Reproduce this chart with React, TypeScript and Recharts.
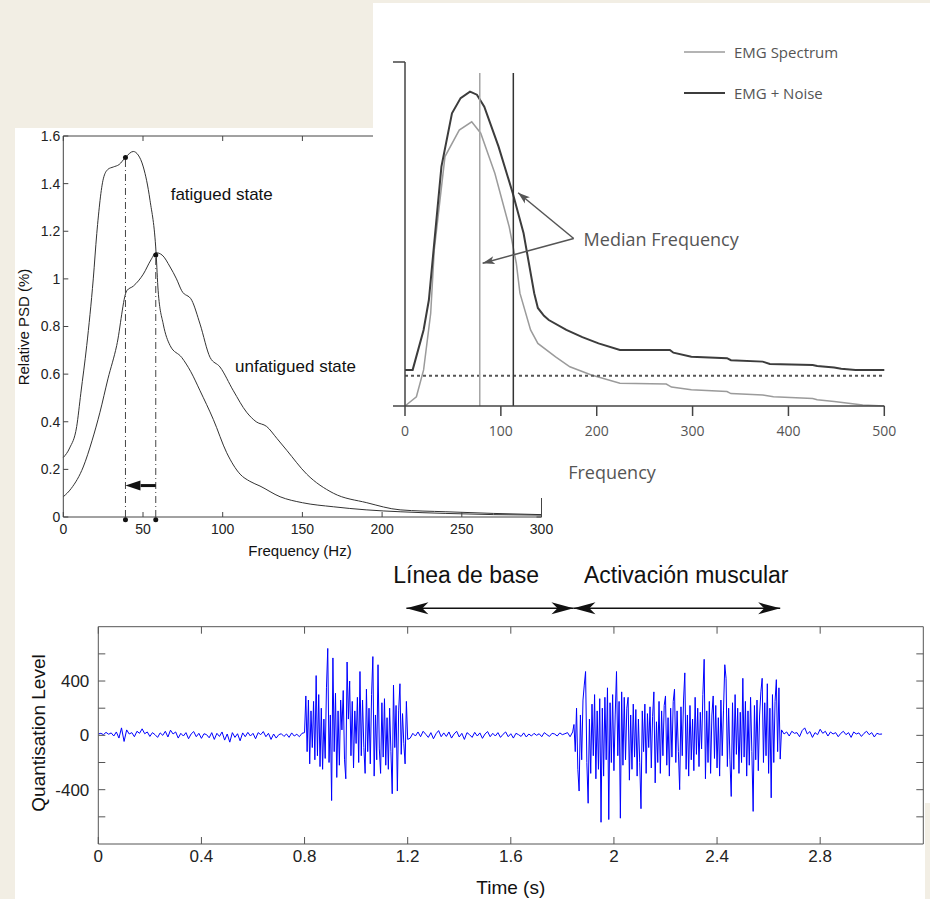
import React from "react";
import {
  LineChart,
  Line,
  XAxis,
  YAxis,
  ReferenceLine,
  ReferenceDot,
  Legend,
} from "recharts";

const SANS = '"Liberation Sans", Arial, sans-serif';
const CALIBRI = '"Open Sans", sans-serif';
const PAPER = "#f2eee4";

// ---- left panel: relative PSD, fatigued vs unfatigued ----
const fatiguedHz = [0, 4, 8.4, 11, 14.7, 18.8, 21, 25.1, 28, 31.4, 35, 39, 43.9, 47, 50.2, 54.4, 58.2, 59.5, 62.7, 67, 74.3, 80, 85.8, 94.1, 102.5, 110.9, 117, 123.4, 136, 150, 169.4, 190, 211.3, 240, 270, 300];
const fatiguedPsd = [0.25, 0.29, 0.38, 0.52, 0.72, 1.0, 1.19, 1.42, 1.46, 1.47, 1.48, 1.51, 1.535, 1.52, 1.47, 1.33, 1.11, 0.95, 0.81, 0.72, 0.67, 0.61, 0.53, 0.41, 0.27, 0.18, 0.15, 0.13, 0.085, 0.06, 0.043, 0.03, 0.022, 0.015, 0.01, 0.008];
const unfatiguedHz = [0, 5, 12.5, 18, 23, 28, 33.5, 39.8, 44, 50.2, 55, 58.2, 62, 67, 71, 74.3, 80.6, 85.8, 92.1, 98.3, 106.7, 115, 121, 127.6, 134, 140.2, 152.7, 169.4, 190.4, 211.3, 240, 270, 300];
const unfatiguedPsd = [0.085, 0.12, 0.21, 0.32, 0.44, 0.58, 0.72, 0.95, 0.97, 1.02, 1.08, 1.11, 1.1, 1.05, 1.0, 0.95, 0.91, 0.81, 0.67, 0.63, 0.53, 0.44, 0.4, 0.38, 0.33, 0.28, 0.18, 0.1, 0.06, 0.03, 0.022, 0.015, 0.01];
const psdTicksX = [0, 50, 100, 150, 200, 250, 300];
const psdTicksY = [0, 0.2, 0.4, 0.6, 0.8, 1, 1.2, 1.4, 1.6];
const medianFatigued = 39;
const medianUnfatigued = 58;
const shiftArrowY = 0.132;

// ---- right panel: EMG spectrum with / without noise ----
const spectrumHz = [0, 11.9, 19.4, 26.8, 30.5, 41.7, 56.6, 69.6, 79, 93.8, 108.7, 116.1, 119.9, 131, 138.6, 157.1, 172, 194.4, 224.2, 272.6, 278, 298.7, 335.9, 340, 373.2, 384.4, 425.3, 430, 447.7, 477.5, 500];
const spectrumLevel = [0, 0.027, 0.105, 0.269, 0.453, 0.725, 0.802, 0.826, 0.793, 0.676, 0.521, 0.415, 0.328, 0.221, 0.182, 0.143, 0.114, 0.09, 0.066, 0.064, 0.055, 0.047, 0.042, 0.036, 0.032, 0.027, 0.022, 0.018, 0.013, 0.003, 0];
const noiseHz = [0, 8, 19.4, 24.9, 38, 49, 58, 67.8, 75, 82.7, 97.6, 112.5, 123.7, 134.8, 138.6, 145, 150, 168.3, 185, 201.9, 224.2, 276.3, 280, 298.7, 335.9, 340, 373.2, 380.6, 425.3, 430, 447.7, 455, 470, 500];
const noiseLevel = [0.105, 0.105, 0.221, 0.308, 0.696, 0.851, 0.895, 0.914, 0.905, 0.87, 0.754, 0.618, 0.502, 0.328, 0.285, 0.262, 0.25, 0.221, 0.2, 0.182, 0.163, 0.163, 0.155, 0.143, 0.139, 0.133, 0.129, 0.122, 0.119, 0.116, 0.112, 0.108, 0.105, 0.105];
const spectrumTicksX = [0, 100, 200, 300, 400, 500];
const legendOrder = ["EMG Spectrum", "EMG + Noise"];
const medianSpectrum = 78;
const medianNoise = 113;
const medianTop = 0.968;
const noiseFloor = 0.088;
const calloutFrom = { x: 176, y: 0.487 };
const calloutToNoise = { x: 118, y: 0.62 };
const calloutToSpectrum = { x: 81, y: 0.415 };

// ---- bottom panel: raw EMG, quantisation level vs time ----
const emgBaselineA = [
  10, 15, 5, 22, 8, 18, -5, 25, -20, 55,
  -45, 40, 10, 20, -10, 30, 15, 48, 12, 25,
  -8, 20, 5, -15, 18, 0, 30, -12, 38, 10,
  25, -20, 15, -5, 20, -25, 10, 28, -10, 15,
  -22, 12, 5, -18, 20, -30, 15, -8, 25, -35,
  10, -50, 20, -15, 12, -40, 18, -10, 22, -5,
  15, -25, 20, 5, 28, -10, 15, -30, 10, -20,
  5, 12, -8, 10, -15, 18, -5, 8, -10, 15,
  20,
];
const emgBurstA = [
  290, -120, 260, -210, 180, -90, 250, -180, 440, -150,
  300, -230, 200, -250, 120, -170, 350, 640, -200, 150,
  -480, 570, -120, 310, -310, 180, -220, 260, 40, 330,
  -180, -320, 540, 120, 400, -150, 250, -240, 180, -60,
  280, -200, 470, -150, 260, -90, -280, 340, -120, 200,
  -210, 300, 580, -300, 150, -180, 520, -100, -280, 240,
  -160, 270, -220, 130, -250, 200, -120, -430, 370, -90,
  220, -410, 180, 380, -140, 160, -60, -210, 250, -30,
];
const emgBaselineB = [
  -20, 15, -5, 25, -10, 30, 8, -15, 20, -25,
  12, 35, -10, 18, -8, 25, -20, 10, 30, -12,
  15, -30, 20, 5, -15, 22, -5, 18, -22, 10,
  28, -10, 15, -5, 20, -15, 8, 25, -10, 12,
  -20, 15, 5, -8, 18, -12, 10, -5, 15, 0,
  12, -10, 20, 5, -8, 15, 10, -5, 18, 5,
  12, 20, -10, 25,
];
const emgBurstB = [
  80, -120, 200, -250, -410, 150, -180, 260, 370, 470,
  -200, -500, 120, -280, 230, -150, 300, -320, 180, -250,
  270, -640, 200, -300, 280, -180, 350, -620, 240, -200,
  300, -260, 150, 470, -150, 250, -610, 320, -220, 280,
  -180, 200, 280, -330, 150, -250, 230, -160, 190, -300,
  120, -200, -540, 180, -120, 230, -280, 160, -90, 210,
  -240, 140, 320, -350, 100, -200, 250, -280, 180, -150,
  220, 290, -220, 130, -300, 200, -160, 250, 340, -200,
  180, -120, -400, 210, -150, 260, 460, -250, 150, -300,
  220, -180, 120, -260, 280, -140, 200, -230, 170, -100,
  300, 560, -320, 180, -200, 250, -280, 150, 290, -170,
  220, -240, 130, -300, 260, -150, 180, 520, 420, -230,
  200, -180, -450, 240, -250, 300, -140, 200, -280, 170,
  -200, 420, -160, 250, -300, 180, -220, 280, -120, -560,
  220, -180, 260, -260, 150, 320, 420, -200, 240, -150,
  380, -280, 200, -460, 300, -200, 250, 410, -120, 350,
  -175, 40,
];
const emgBaselineC = [
  10, 25, -5, 30, 15, 20, -10, 35, 55, 10,
  28, -15, 20, 5, 45, 15, 30, -5, 25, 10,
  20, -10, 15, 30, 5, 20, -15, 25, 10, 18,
  -8, 15, 30, 5, 20, -12, 15, 8, 10,
];
const emgTicksX = [0, 0.4, 0.8, 1.2, 1.6, 2, 2.4, 2.8];
const emgTicksY = [-600, -400, -200, 0, 200, 400, 600];
const emgLabelledY = [-400, 0, 400];
const baselineSpan = [1.195, 1.843];
const activationSpan = [1.843, 2.645];
const spanLevel = 935;

const zip = (xs: number[], ys: number[]) => xs.map((x, i) => ({ x, y: ys[i] }));
const run = (start: number, step: number, values: number[]) =>
  values.map((y, i) => ({ x: +(start + i * step).toFixed(3), y }));

const fatigued = zip(fatiguedHz, fatiguedPsd);
const unfatigued = zip(unfatiguedHz, unfatiguedPsd);
const spectrum = zip(spectrumHz, spectrumLevel);
const noisy = zip(noiseHz, noiseLevel);
const emg = [
  ...run(0, 0.01, emgBaselineA),
  ...run(0.805, 0.005, emgBurstA),
  ...run(1.21, 0.01, emgBaselineB),
  ...run(1.845, 0.005, emgBurstB),
  ...run(2.66, 0.01, emgBaselineC),
];

const arrowHead =
  (angle: number, len: number, half: number, notch: number, fill: string) =>
  (props: any) => (
    <polygon
      points={`0,0 ${-len},${-half} ${-len + notch},0 ${-len},${half}`}
      transform={`translate(${props.cx},${props.cy}) rotate(${angle})`}
      fill={fill}
    />
  );

function Note({
  x,
  y,
  size,
  font,
  color = "#111",
  anchor = "start",
  rotate = false,
  children,
}: any) {
  const tx = anchor === "middle" ? "-50%" : "0";
  return (
    <div
      style={{
        position: "absolute",
        left: x,
        top: y,
        fontSize: size,
        fontFamily: font,
        color,
        lineHeight: 1,
        whiteSpace: "nowrap",
        transform: `translate(${tx}, -50%)${rotate ? " rotate(-90deg)" : ""}`,
      }}
    >
      {children}
    </div>
  );
}

const spectrumLegend = (props: any) => {
  const items = [...(props.payload || [])].sort(
    (a: any, b: any) => legendOrder.indexOf(a.value) - legendOrder.indexOf(b.value)
  );
  return (
    <div style={{ fontFamily: CALIBRI, fontSize: 15, color: "#555" }}>
      {items.map((e: any) => (
        <div key={e.value} style={{ display: "flex", alignItems: "center", height: 41 }}>
          <svg width={41} height={4}>
            <line x1={0} x2={41} y1={2} y2={2} stroke={e.color} strokeWidth={e.value === "EMG + Noise" ? 2 : 1.5} />
          </svg>
          <span style={{ marginLeft: 9 }}>{e.value}</span>
        </div>
      ))}
    </div>
  );
};

const psdTick = { fontSize: 14, fill: "#222", fontFamily: SANS };
const spectrumTick = { fontSize: 14, fill: "#555", fontFamily: CALIBRI };
const emgTick = { fontSize: 17, fill: "#222", fontFamily: SANS };

export default function App() {
  return (
    <div
      style={{
        position: "absolute",
        left: 0,
        top: 0,
        width: 930,
        height: 899,
        background: PAPER,
        overflow: "hidden",
      }}
    >
      <div style={{ position: "absolute", left: 15, top: 128, width: 915, height: 771, background: "#fff" }} />
      <div style={{ position: "absolute", left: 925, top: 803, width: 5, height: 96, background: PAPER }} />

      {/* relative PSD */}
      <div style={{ position: "absolute", left: 0, top: 0 }}>
        <LineChart width={560} height={570} margin={{ top: 135, right: 17.5, bottom: 23, left: 13.3 }}>
          <XAxis dataKey="x" type="number" domain={[0, 300]} ticks={psdTicksX} interval={0} height={30}
            tickSize={-5} tickMargin={12} stroke="#444" tick={psdTick} />
          <XAxis xAxisId="top" orientation="top" dataKey="x" type="number" domain={[0, 300]} allowDataOverflow
            ticks={psdTicksX} interval={0} height={1} tickSize={-5} stroke="#444" tickFormatter={() => ""} />
          <YAxis type="number" domain={[0, 1.6]} ticks={psdTicksY} interval={0} width={50}
            tickSize={-5} tickMargin={8} stroke="#444" tick={psdTick}
            tickFormatter={(v: number) => String(+v.toFixed(1))} />
          <YAxis yAxisId="right" orientation="right" type="number" domain={[0, 1.6]} allowDataOverflow
            ticks={psdTicksY} interval={0} width={1} tickSize={-5} stroke="#444" tickFormatter={() => ""} />
          <Line data={fatigued} dataKey="y" type="monotone" stroke="#333" strokeWidth={1} dot={false} isAnimationActive={false} />
          <Line data={unfatigued} dataKey="y" type="monotone" stroke="#333" strokeWidth={1} dot={false} isAnimationActive={false} />
          {/* same curve bound to the frame axes so that they get drawn; no stroke */}
          <Line data={fatigued} dataKey="y" xAxisId="top" yAxisId="right" stroke="none" dot={false}
            legendType="none" isAnimationActive={false} />
          <ReferenceLine segment={[{ x: medianFatigued, y: 0 }, { x: medianFatigued, y: 1.51 }]}
            stroke="#444" strokeDasharray="7 3 1 3" ifOverflow="visible" />
          <ReferenceLine segment={[{ x: medianUnfatigued, y: 0 }, { x: medianUnfatigued, y: 1.1 }]}
            stroke="#444" strokeDasharray="7 3 1 3" ifOverflow="visible" />
          <ReferenceDot x={medianFatigued} y={1.51} r={2.5} fill="#111" stroke="none" ifOverflow="visible" />
          <ReferenceDot x={medianUnfatigued} y={1.1} r={2.5} fill="#111" stroke="none" ifOverflow="visible" />
          <ReferenceDot x={medianFatigued} y={-0.012} r={2.5} fill="#111" stroke="none" ifOverflow="visible" />
          <ReferenceDot x={medianUnfatigued} y={-0.012} r={2.5} fill="#111" stroke="none" ifOverflow="visible" />
          <ReferenceLine segment={[{ x: 48.5, y: shiftArrowY }, { x: medianUnfatigued, y: shiftArrowY }]}
            stroke="#111" strokeWidth={3} ifOverflow="visible" />
          <ReferenceDot x={medianFatigued} y={shiftArrowY} r={0} ifOverflow="visible"
            shape={arrowHead(180, 15, 5, 0, "#111")} />
        </LineChart>
      </div>

      <div style={{ position: "absolute", left: 373, top: 3, width: 557, height: 495, background: "#fff" }} />

      {/* EMG spectrum */}
      <div style={{ position: "absolute", left: 370, top: 0 }}>
        <LineChart width={560} height={500} margin={{ top: 62, right: 45.7, bottom: 54, left: 15 }}>
          <XAxis dataKey="x" type="number" domain={[0, 500]} ticks={spectrumTicksX} interval={0} height={40}
            tickSize={10} tickMargin={10} stroke="#444" strokeWidth={1.5} tick={spectrumTick} />
          <YAxis type="number" domain={[0, 1]} ticks={[0, 1]} interval={0} width={20}
            tickSize={12} stroke="#444" strokeWidth={1.5} tickFormatter={() => ""} />
          <Line data={spectrum} dataKey="y" name="EMG Spectrum" type="linear" stroke="#9b9b9b" strokeWidth={1.5}
            dot={false} isAnimationActive={false} />
          <Line data={noisy} dataKey="y" name="EMG + Noise" type="linear" stroke="#3c3c3c" strokeWidth={2}
            dot={false} isAnimationActive={false} />
          <ReferenceLine y={noiseFloor} stroke="#555" strokeWidth={2} strokeDasharray="3 3" />
          <ReferenceLine segment={[{ x: medianSpectrum, y: 0 }, { x: medianSpectrum, y: medianTop }]}
            stroke="#a5a5a5" strokeWidth={1.5} />
          <ReferenceLine segment={[{ x: medianNoise, y: 0 }, { x: medianNoise, y: medianTop }]}
            stroke="#333" strokeWidth={1.5} />
          <ReferenceLine segment={[calloutFrom, calloutToNoise]} stroke="#555" strokeWidth={1.5} />
          <ReferenceLine segment={[calloutFrom, calloutToSpectrum]} stroke="#555" strokeWidth={1.5} />
          <ReferenceDot x={calloutToNoise.x} y={calloutToNoise.y} r={0} shape={arrowHead(219.5, 12, 4, 3, "#555")} />
          <ReferenceDot x={calloutToSpectrum.x} y={calloutToSpectrum.y} r={0} shape={arrowHead(164.7, 12, 4, 3, "#555")} />
          <Legend verticalAlign="middle" align="center" layout="horizontal"
            wrapperStyle={{ top: 31, left: 314, width: 230 }} content={spectrumLegend} />
        </LineChart>
      </div>

      {/* raw EMG */}
      <div style={{ position: "absolute", left: 0, top: 560 }}>
        <LineChart width={930} height={339} margin={{ top: 65.7, right: 5.7, bottom: 25, left: 38.3 }}>
          <XAxis dataKey="x" type="number" domain={[0, 3.2]} ticks={emgTicksX} interval={0} height={30}
            tickSize={-7} tickMargin={13} stroke="#555" tick={emgTick} />
          <XAxis xAxisId="top" orientation="top" dataKey="x" type="number" domain={[0, 3.2]} allowDataOverflow
            ticks={emgTicksX} interval={0} height={1} tickSize={-7} stroke="#555" tickFormatter={() => ""} />
          <YAxis type="number" domain={[-800, 800]} ticks={emgTicksY} interval={0} width={60}
            tickSize={-7} tickMargin={16} stroke="#555" tick={emgTick}
            tickFormatter={(v: number) => (emgLabelledY.includes(v) ? String(v) : "")} />
          <YAxis yAxisId="right" orientation="right" type="number" domain={[-800, 800]} allowDataOverflow
            ticks={emgTicksY} interval={0} width={1} tickSize={-7} stroke="#555" tickFormatter={() => ""} />
          <Line data={emg} dataKey="y" type="linear" stroke="#0000ff" strokeWidth={1} dot={false} isAnimationActive={false} />
          {/* same trace bound to the frame axes so that they get drawn; no stroke */}
          <Line data={emg} dataKey="y" xAxisId="top" yAxisId="right" stroke="none" dot={false}
            legendType="none" isAnimationActive={false} />
          <ReferenceLine segment={[{ x: baselineSpan[0], y: spanLevel }, { x: baselineSpan[1], y: spanLevel }]}
            stroke="#111" strokeWidth={1.5} ifOverflow="visible" />
          <ReferenceLine segment={[{ x: activationSpan[0], y: spanLevel }, { x: activationSpan[1], y: spanLevel }]}
            stroke="#111" strokeWidth={1.5} ifOverflow="visible" />
          <ReferenceDot x={baselineSpan[0]} y={spanLevel} r={0} ifOverflow="visible" shape={arrowHead(180, 22, 6, 6, "#111")} />
          <ReferenceDot x={baselineSpan[1]} y={spanLevel} r={0} ifOverflow="visible" shape={arrowHead(0, 22, 6, 6, "#111")} />
          <ReferenceDot x={activationSpan[0]} y={spanLevel} r={0} ifOverflow="visible" shape={arrowHead(180, 22, 6, 6, "#111")} />
          <ReferenceDot x={activationSpan[1]} y={spanLevel} r={0} ifOverflow="visible" shape={arrowHead(0, 22, 6, 6, "#111")} />
        </LineChart>
      </div>

      <Note x={170.7} y={194} size={17} font={SANS}>fatigued state</Note>
      <Note x={235} y={366} size={17} font={SANS}>unfatigued state</Note>
      <Note x={300} y={550} size={15} font={SANS} anchor="middle">Frequency (Hz)</Note>
      <Note x={23} y={327} size={15} font={SANS} anchor="middle" rotate>Relative PSD (%)</Note>

      <Note x={612} y={471.7} size={18} font={CALIBRI} color="#555" anchor="middle">Frequency</Note>
      <Note x={583.6} y={239} size={18} font={CALIBRI} color="#555">Median Frequency</Note>

      <Note x={393.3} y={575} size={23} font={SANS}>Línea de base</Note>
      <Note x={584} y={575} size={23} font={SANS}>Activación muscular</Note>
      <Note x={510.8} y={886.7} size={19} font={SANS} anchor="middle">Time (s)</Note>
      <Note x={37.5} y={733} size={19} font={SANS} anchor="middle" rotate>Quantisation Level</Note>
    </div>
  );
}
